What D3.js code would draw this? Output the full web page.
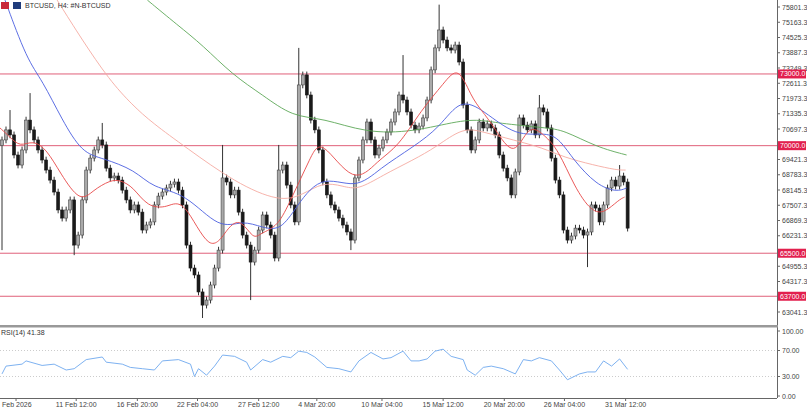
<!DOCTYPE html>
<html><head><meta charset="utf-8">
<script src="https://cdn.jsdelivr.net/npm/d3@7"></script>
<style>body{margin:0;background:#fff}svg{display:block;font-family:"Liberation Sans",Arial,sans-serif}</style>
</head><body><svg id="c" width="807" height="410"></svg>
<script>
const closes=[70240,70660,70450,69610,69190,69820,71070,70660,70240,69820,69400,68980,68560,68060,67310,66970,67310,67730,65840,66260,67730,68980,69480,69820,70240,70030,69060,68650,68730,68560,68140,67730,67310,67520,67220,66470,66680,66810,67520,67890,68060,68230,68390,68480,68140,67520,65840,64880,64590,63880,63330,63540,64170,64880,65630,68650,68480,67940,68140,67220,66260,65840,65130,65630,66470,67100,66680,66260,65300,68980,69190,68350,67520,66810,72540,72960,72120,71070,70660,69820,68480,67940,67520,67310,66970,66680,66390,66050,68650,69400,70240,70990,70240,69610,69900,70240,70570,70990,71410,72120,71910,71410,70860,70660,70820,71160,71910,73170,74090,74840,74420,74090,74000,74210,73500,71700,70660,69820,70240,70990,70740,70910,70740,70450,69610,69060,68650,67940,68900,71160,70860,70660,70910,70450,71580,71410,70740,69480,68560,67940,66470,66050,66220,66550,66470,66260,66390,67520,67390,66810,67520,68230,68560,68310,68730,68480,66550];
const firstOpen=70000;
const highIdx=[2,7,25,55,69,74,100,109,134,154];
const highVal=[71490,72200,70950,70030,70030,74090,73790,75900,72120,69190];
const lowIdx=[0,18,50,62,87,146];
const lowVal=[65630,65420,62790,63540,65630,64920];
const wickPad=140;
const levels=[73000,70000,65500,63700];
const levelLabels=["73000.0","70000.0","65500.0","63700.0"];
const priceTicks=[75801.3,75163.3,74525.3,73887.3,73249.3,72611.3,71973.3,71335.3,70697.3,70059.3,69421.3,68783.3,68145.3,67507.3,66869.3,66231.3,65593.3,64955.3,64317.3,63679.3,63041.3];
const hiddenTicks=[70059.3,65593.3,63679.3];
const maRed=[[-0.5,70740],[2,70360],[4.5,69940],[7.75,70240],[11.25,69820],[14.5,68860],[19.5,67600],[22.75,68140],[27,68560],[29.5,68560],[32.75,68270],[36.25,67430],[41.25,67390],[45.25,67850],[52,65340],[56.25,66600],[59.5,66970],[62.75,66050],[64.5,66350],[68.75,66600],[72,67730],[77,69530],[79.5,70360],[87.75,68270],[93.75,69400],[98.75,69940],[104.5,71490],[110.25,72620],[113.75,73370],[117,72040],[119.5,71490],[122.75,70780],[127.75,69400],[131.25,70940],[135.25,70450],[138.75,69820],[142.75,68270],[147,67220],[150.25,67180],[153.75,67730],[155.25,67850]];
const maBlue=[[0.75,76090],[6.25,73580],[10,72750],[15,71070],[20,69690],[25,69480],[33.25,68980],[37.5,68230],[45.75,68020],[54.25,66470],[60,66890],[65,66560],[69.25,66470],[72.5,67180],[79.25,68860],[88.25,68140],[94.25,69060],[102.5,69940],[109.25,70780],[114.25,71990],[120,71490],[128.25,70360],[135.75,70570],[139.25,70240],[142.5,69400],[148.25,68350],[153.25,68060],[155.75,68230]];
const maSalmon=[[13.75,76090],[20,74420],[26.75,72750],[32.5,71700],[37.5,70950],[45.75,69940],[58.25,68440],[69.25,67640],[75,67940],[80,68480],[85,68310],[88.75,68140],[95,68770],[102.5,69400],[108.25,69940],[115,70780],[120,70570],[127.5,70240],[135,69900],[140,69520],[147.5,69190],[153.25,68980],[155.5,68980]];
const maGreen=[[36.25,76090],[43.75,75050],[50,74210],[57.5,72960],[65,72120],[72.5,71200],[80,71160],[90.75,70530],[102.5,70570],[114.25,71070],[120,71070],[123.25,70950],[135.75,70740],[140,70660],[148.25,69940],[155.75,69610]];
const rsiIdx=[0,1,5,6,10,13,16,18,21,25,26,30,32,35,38,40,44,47,48,49,51,53,55,58,61,62,65,67,70,72,74,76,78,81,84,87,89,92,95,97,100,102,104,106,108,110,112,115,116,118,120,122,125,128,130,132,134,137,139,141,144,146,148,150,152,154,156];
const rsiVal=[34,46,49,54,47,49,40,42,56,60,52,49,44,42,40,54,56,49,30,42,32,46,63,61,52,40,56,52,61,59,69,67,60,44,42,37,54,67,57,59,69,54,54,57,69,72,61,56,40,32,44,46,42,34,56,54,59,54,40,25,34,37,37,54,46,57,41];
const dateLabels=["Feb 2026","11 Feb 12:00","16 Feb 20:00","22 Feb 04:00","27 Feb 12:00","4 Mar 20:00","10 Mar 04:00","15 Mar 12:00","20 Mar 20:00","26 Mar 04:00","31 Mar 12:00"];
const dateIdx=[3.5,18.5,33.75,48.75,64,78.5,94.75,110,125.25,140.25,155.5];

const svg=d3.select("#c");
const axX=777, paneBot=325;
const x=d3.scaleLinear().domain([-0.5,193.25]).range([0,axX]);
const y=d3.scaleLinear().domain([63041.3,75801.3]).range([312,7]);
const yr=d3.scaleLinear().domain([0,100]).range([396,331]);
svg.append("defs").append("clipPath").attr("id","cp").append("rect").attr("x",0).attr("y",0).attr("width",axX).attr("height",paneBot);
const g=svg.append("g").attr("clip-path","url(#cp)");
levels.forEach(v=>g.append("line").attr("x1",0).attr("x2",axX).attr("y1",y(v)).attr("y2",y(v)).attr("stroke","#e0607a").attr("stroke-width",1));
const bars=closes.map((c,i)=>{const o=i?closes[i-1]:firstOpen;let h=Math.max(o,c)+wickPad,l=Math.min(o,c)-wickPad;
 const hi=highIdx.indexOf(i);if(hi>=0)h=highVal[hi];const li=lowIdx.indexOf(i);if(li>=0)l=lowVal[li];return {i,o,c,h,l};});
g.selectAll(".w").data(bars).join("line").attr("x1",d=>x(d.i)).attr("x2",d=>x(d.i)).attr("y1",d=>y(d.h)).attr("y2",d=>y(d.l)).attr("stroke","#333");
g.selectAll(".b").data(bars).join("rect").attr("x",d=>x(d.i)-1.5).attr("width",3)
 .attr("y",d=>y(Math.max(d.o,d.c))).attr("height",d=>Math.max(1,Math.abs(y(d.o)-y(d.c))))
 .attr("fill",d=>d.c>=d.o?"#aaa":"#1a1a1a").attr("stroke",d=>d.c>=d.o?"#444":"#1a1a1a").attr("stroke-width",0.6);
const line=d3.line().x(d=>x(d[0])).y(d=>y(d[1])).curve(d3.curveBasis);
[[maGreen,"#5ea858"],[maSalmon,"#f5aaa2"],[maBlue,"#4b5fe0"],[maRed,"#e84848"]].forEach(([d,c])=>g.append("path").attr("d",line(d)).attr("fill","none").attr("stroke",c).attr("stroke-width",0.9));
svg.append("line").attr("x1",axX+0.5).attr("x2",axX+0.5).attr("y1",0).attr("y2",398).attr("stroke","#666");
priceTicks.forEach(v=>{if(hiddenTicks.includes(v))return;
 svg.append("line").attr("x1",axX).attr("x2",axX+3).attr("y1",y(v)).attr("y2",y(v)).attr("stroke","#666");
 svg.append("text").attr("x",axX+5).attr("y",y(v)+2.5).attr("font-size",7).attr("fill","#444").text(v.toFixed(1));});
levels.forEach((v,k)=>{svg.append("rect").attr("x",axX+1).attr("y",y(v)-4.5).attr("width",28).attr("height",9).attr("fill","#e2204e");
 svg.append("text").attr("x",axX+3).attr("y",y(v)+2.5).attr("font-size",7).attr("fill","#fff").text(levelLabels[k]);});
svg.append("rect").attr("x",0).attr("y",325).attr("width",axX+1).attr("height",2.5).attr("fill","#999");
[70,30].forEach(v=>svg.append("line").attr("x1",0).attr("x2",axX).attr("y1",yr(v)).attr("y2",yr(v)).attr("stroke","#ccc").attr("stroke-dasharray","1,2"));
svg.append("path").attr("d",d3.line().x((d,k)=>x(rsiIdx[k])).y(d=>yr(d))(rsiVal)).attr("fill","none").attr("stroke","#6ea8ee").attr("stroke-width",0.9);
[100,70,30,0].forEach(v=>{svg.append("line").attr("x1",axX).attr("x2",axX+3).attr("y1",yr(v)).attr("y2",yr(v)).attr("stroke","#666");
 svg.append("text").attr("x",axX+5).attr("y",yr(v)+2.5).attr("font-size",7).attr("fill","#444").text(v.toFixed(2));});
svg.append("text").attr("x",1).attr("y",335).attr("font-size",7).attr("fill","#333").text("RSI(14) 41.38");
svg.append("line").attr("x1",0).attr("x2",axX).attr("y1",398.5).attr("y2",398.5).attr("stroke","#666");
dateLabels.forEach((t,k)=>{const px=x(dateIdx[k]);
 svg.append("line").attr("x1",px).attr("x2",px).attr("y1",398).attr("y2",401).attr("stroke","#666");
 svg.append("text").attr("x",k?px:2).attr("y",407).attr("font-size",7).attr("fill","#444").attr("text-anchor",k?"middle":"start").text(t);});
svg.append("rect").attr("x",1).attr("y",2).attr("width",8).attr("height",7).attr("fill","#c8283c");
svg.append("rect").attr("x",13).attr("y",2).attr("width",8).attr("height",7).attr("fill","#203c7c");
svg.append("text").attr("x",25).attr("y",8).attr("font-size",7).attr("fill","#333").text("BTCUSD, H4:  #N-BTCUSD");
</script></body></html>
